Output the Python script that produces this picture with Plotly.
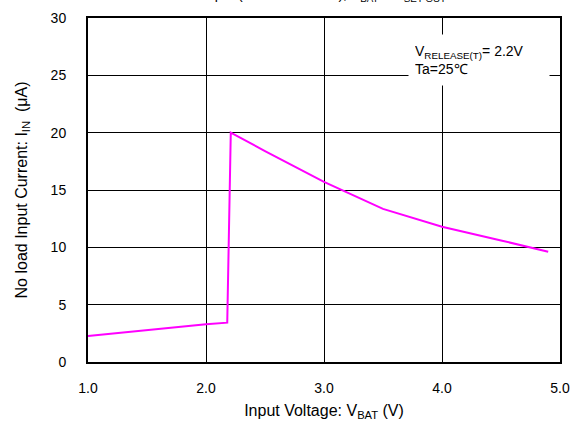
import plotly.graph_objects as go

# Data
v_bat = [1.0, 1.5, 2.0, 2.18, 2.21, 2.5, 3.0, 3.5, 4.0, 4.5, 4.9]
i_in = [2.27, 2.8, 3.3, 3.43, 20.0, 18.4, 15.7, 13.35, 11.8, 10.6, 9.62]

x_ticks = [1.0, 2.0, 3.0, 4.0, 5.0]
x_tick_labels = ["1.0", "2.0", "3.0", "4.0", "5.0"]
y_ticks = [0, 5, 10, 15, 20, 25, 30]

FONT = "Liberation Sans, Arial, sans-serif"

fig = go.Figure()
fig.add_trace(go.Scatter(
    x=v_bat, y=i_in, mode="lines",
    line=dict(color="#ff00ff", width=2),
    showlegend=False, hoverinfo="skip",
))

fig.update_layout(
    width=571, height=421,
    margin=dict(l=88, r=11, t=18, b=59),
    paper_bgcolor="white", plot_bgcolor="white",
    font=dict(family=FONT, size=14, color="black"),
    xaxis=dict(
        range=[1.0, 5.0], tickvals=x_ticks, ticktext=x_tick_labels,
        showgrid=True, gridcolor="black", gridwidth=1,
        showline=True, linecolor="black", linewidth=2, mirror=True,
        ticks="", zeroline=False, ticklabelstandoff=12, automargin=False,
        tickfont=dict(size=14),
        title=dict(text="Input Voltage: V<sub>BAT</sub> (V)", standoff=13,
                   font=dict(size=16)),
    ),
    yaxis=dict(
        range=[0, 30], tickvals=y_ticks,
        showgrid=True, gridcolor="black", gridwidth=1,
        showline=True, linecolor="black", linewidth=2, mirror=True,
        ticks="", zeroline=False, ticklabelstandoff=17, automargin=False,
        tickfont=dict(size=14),
        title=dict(text="No load Input Current: I<sub>IN</sub>  (μA)", standoff=19,
                   font=dict(size=16)),
    ),
)

fig.add_annotation(
    xref="paper", yref="paper", x=0.678, y=0.9535, xanchor="left", yanchor="top",
    text="V<sub>RELEASE(T)</sub>= 2.2V<br>Ta=25℃",
    showarrow=False, align="left", bgcolor="white", borderpad=6,
    width=128, height=38, valign="middle",
    font=dict(size=14, color="black"),
)

fig.add_annotation(
    xref="paper", yref="paper", x=0.5, y=1.0, xanchor="center", yanchor="bottom",
    yshift=12,
    text="Input (No load current), V<sub>BAT</sub> = V<sub>SET OUT</sub>",
    showarrow=False, font=dict(size=14, color="black"),
)

fig.write_html(
    "out.html",
    config={"displayModeBar": False},
    post_script="document.body.style.margin='0px';",
)
